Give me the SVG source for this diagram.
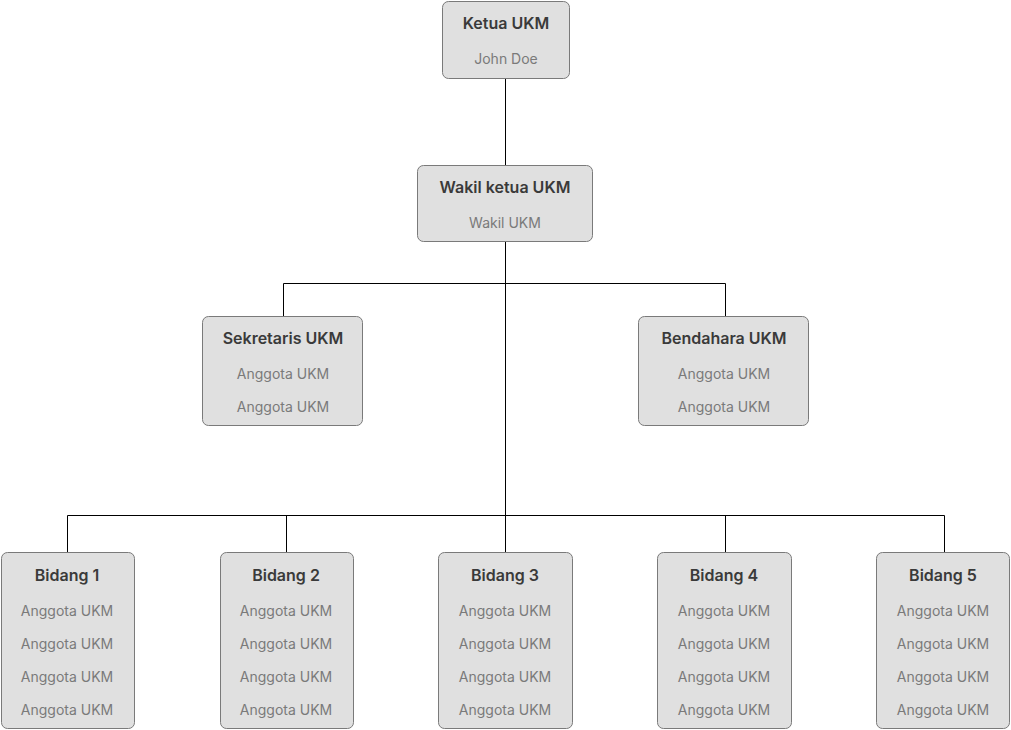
<svg xmlns="http://www.w3.org/2000/svg" width="1011" height="730" viewBox="0 0 1011 730">
<style>
.box{fill:#e0e0e0;stroke:#7a7a7a;stroke-width:1}
.t{font-family:Inter,"Noto Sans",sans-serif;font-size:16px;font-weight:600;fill:#3a3a3a;text-anchor:middle;dominant-baseline:central}
.s{font-family:Inter,"Noto Sans",sans-serif;font-size:14px;font-weight:400;fill:#7a7a7a;text-anchor:middle;dominant-baseline:central}
.c{fill:none;stroke:#000;stroke-width:1}
</style>
<rect width="1011" height="730" fill="#fff"/>
<g id="connectors">
<path class="c" d="M505.5 78V165"/>
<path class="c" d="M505.5 242V552"/>
<path class="c" d="M283.5 316V283.5H725.5V316"/>
<path class="c" d="M67.5 552V515.5H944.5V552"/>
<path class="c" d="M286.5 515.5V552"/>
<path class="c" d="M725.5 515.5V552"/>
</g>
<g id="ketua">
<rect class="box" x="442.5" y="1.5" width="127" height="77" rx="6"/>
<text class="t" x="506" y="23">Ketua UKM</text>
<text class="s" x="506" y="58">John Doe</text>
</g>
<g id="wakil">
<rect class="box" x="417.5" y="165.5" width="175" height="76" rx="6"/>
<text class="t" x="505" y="187">Wakil ketua UKM</text>
<text class="s" x="505" y="222">Wakil UKM</text>
</g>
<g id="sekretaris">
<rect class="box" x="202.5" y="316.5" width="160" height="109" rx="6"/>
<text class="t" x="283" y="338">Sekretaris UKM</text>
<text class="s" x="283" y="373">Anggota UKM</text>
<text class="s" x="283" y="406">Anggota UKM</text>
</g>
<g id="bendahara">
<rect class="box" x="638.5" y="316.5" width="170" height="109" rx="6"/>
<text class="t" x="724" y="338">Bendahara UKM</text>
<text class="s" x="724" y="373">Anggota UKM</text>
<text class="s" x="724" y="406">Anggota UKM</text>
</g>
<g id="bidang1">
<rect class="box" x="1.5" y="552.5" width="133" height="176" rx="6"/>
<text class="t" x="67" y="575">Bidang 1</text>
<text class="s" x="67" y="610">Anggota UKM</text>
<text class="s" x="67" y="643">Anggota UKM</text>
<text class="s" x="67" y="676">Anggota UKM</text>
<text class="s" x="67" y="709">Anggota UKM</text>
</g>
<g id="bidang2">
<rect class="box" x="220.5" y="552.5" width="133" height="176" rx="6"/>
<text class="t" x="286" y="575">Bidang 2</text>
<text class="s" x="286" y="610">Anggota UKM</text>
<text class="s" x="286" y="643">Anggota UKM</text>
<text class="s" x="286" y="676">Anggota UKM</text>
<text class="s" x="286" y="709">Anggota UKM</text>
</g>
<g id="bidang3">
<rect class="box" x="438.5" y="552.5" width="134" height="176" rx="6"/>
<text class="t" x="505" y="575">Bidang 3</text>
<text class="s" x="505" y="610">Anggota UKM</text>
<text class="s" x="505" y="643">Anggota UKM</text>
<text class="s" x="505" y="676">Anggota UKM</text>
<text class="s" x="505" y="709">Anggota UKM</text>
</g>
<g id="bidang4">
<rect class="box" x="657.5" y="552.5" width="134" height="176" rx="6"/>
<text class="t" x="724" y="575">Bidang 4</text>
<text class="s" x="724" y="610">Anggota UKM</text>
<text class="s" x="724" y="643">Anggota UKM</text>
<text class="s" x="724" y="676">Anggota UKM</text>
<text class="s" x="724" y="709">Anggota UKM</text>
</g>
<g id="bidang5">
<rect class="box" x="876.5" y="552.5" width="133" height="176" rx="6"/>
<text class="t" x="943" y="575">Bidang 5</text>
<text class="s" x="943" y="610">Anggota UKM</text>
<text class="s" x="943" y="643">Anggota UKM</text>
<text class="s" x="943" y="676">Anggota UKM</text>
<text class="s" x="943" y="709">Anggota UKM</text>
</g>
</svg>
